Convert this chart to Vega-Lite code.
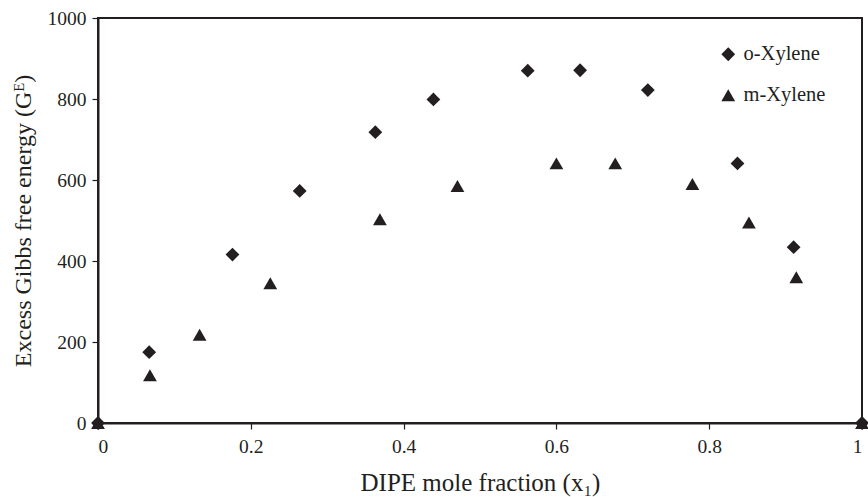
{
  "$schema": "https://vega.github.io/schema/vega-lite/v6.json",
  "width": 764,
  "height": 405,
  "autosize": {"type": "none"},
  "padding": {"left": 98, "top": 18, "right": 6, "bottom": 74},
  "background": "white",
  "config": {
    "view": {"stroke": "#231f20", "strokeWidth": 2},
    "font": "Liberation Serif",
    "axis": {
      "labelFont": "Liberation Serif",
      "titleFont": "Liberation Serif",
      "labelFontSize": 19.5,
      "titleFontSize": 25,
      "titleFontWeight": "normal",
      "labelColor": "#231f20",
      "titleColor": "#231f20",
      "domainColor": "#231f20",
      "domainWidth": 2,
      "tickColor": "#231f20",
      "tickWidth": 1.2,
      "tickSize": 6,
      "grid": false
    }
  },
  "data": {
    "values": [
      {"x": 0, "g": 0, "s": "m-Xylene"},
      {"x": 0.068, "g": 118, "s": "m-Xylene"},
      {"x": 0.133, "g": 218, "s": "m-Xylene"},
      {"x": 0.2255, "g": 345, "s": "m-Xylene"},
      {"x": 0.369, "g": 503, "s": "m-Xylene"},
      {"x": 0.4705, "g": 585, "s": "m-Xylene"},
      {"x": 0.6, "g": 641, "s": "m-Xylene"},
      {"x": 0.677, "g": 641, "s": "m-Xylene"},
      {"x": 0.778, "g": 590, "s": "m-Xylene"},
      {"x": 0.852, "g": 495, "s": "m-Xylene"},
      {"x": 0.914, "g": 360, "s": "m-Xylene"},
      {"x": 1, "g": 0, "s": "m-Xylene"},
      {"x": 0, "g": 0, "s": "o-Xylene"},
      {"x": 0.067, "g": 175, "s": "o-Xylene"},
      {"x": 0.176, "g": 416, "s": "o-Xylene"},
      {"x": 0.264, "g": 573, "s": "o-Xylene"},
      {"x": 0.363, "g": 718, "s": "o-Xylene"},
      {"x": 0.439, "g": 799, "s": "o-Xylene"},
      {"x": 0.5625, "g": 870, "s": "o-Xylene"},
      {"x": 0.631, "g": 871, "s": "o-Xylene"},
      {"x": 0.7197, "g": 822, "s": "o-Xylene"},
      {"x": 0.837, "g": 641, "s": "o-Xylene"},
      {"x": 0.9105, "g": 434, "s": "o-Xylene"},
      {"x": 1, "g": 0, "s": "o-Xylene"}
    ]
  },
  "mark": {"type": "point", "filled": true, "opacity": 1, "color": "#231f20", "size": 190, "strokeWidth": 0},
  "encoding": {
    "x": {
      "field": "x", "type": "quantitative",
      "scale": {"domain": [0, 1], "nice": false, "zero": false},
      "axis": {"values": [0, 0.2, 0.4, 0.6, 0.8, 1], "format": "~g", "labelPadding": 8, "title": "DIPE mole fraction (x₁)", "titlePadding": 15}
    },
    "y": {
      "field": "g", "type": "quantitative",
      "scale": {"domain": [0, 1000], "nice": false},
      "axis": {"values": [0, 200, 400, 600, 800, 1000], "format": "d", "labelPadding": 6, "title": "Excess Gibbs free energy (Gᴱ)", "titleFontSize": 24, "titlePadding": 12}
    },
    "shape": {
      "field": "s", "type": "nominal",
      "scale": {"domain": ["o-Xylene", "m-Xylene"], "range": ["diamond", "triangle-up"]},
      "legend": {
        "orient": "none", "legendX": 620, "legendY": 26, "title": null,
        "labelFont": "Liberation Serif", "labelFontSize": 20.5, "labelColor": "#231f20",
        "symbolSize": 190, "symbolFillColor": "#231f20", "symbolStrokeWidth": 0, "symbolOpacity": 1,
        "rowPadding": 20, "labelOffset": 5
      }
    }
  }
}
